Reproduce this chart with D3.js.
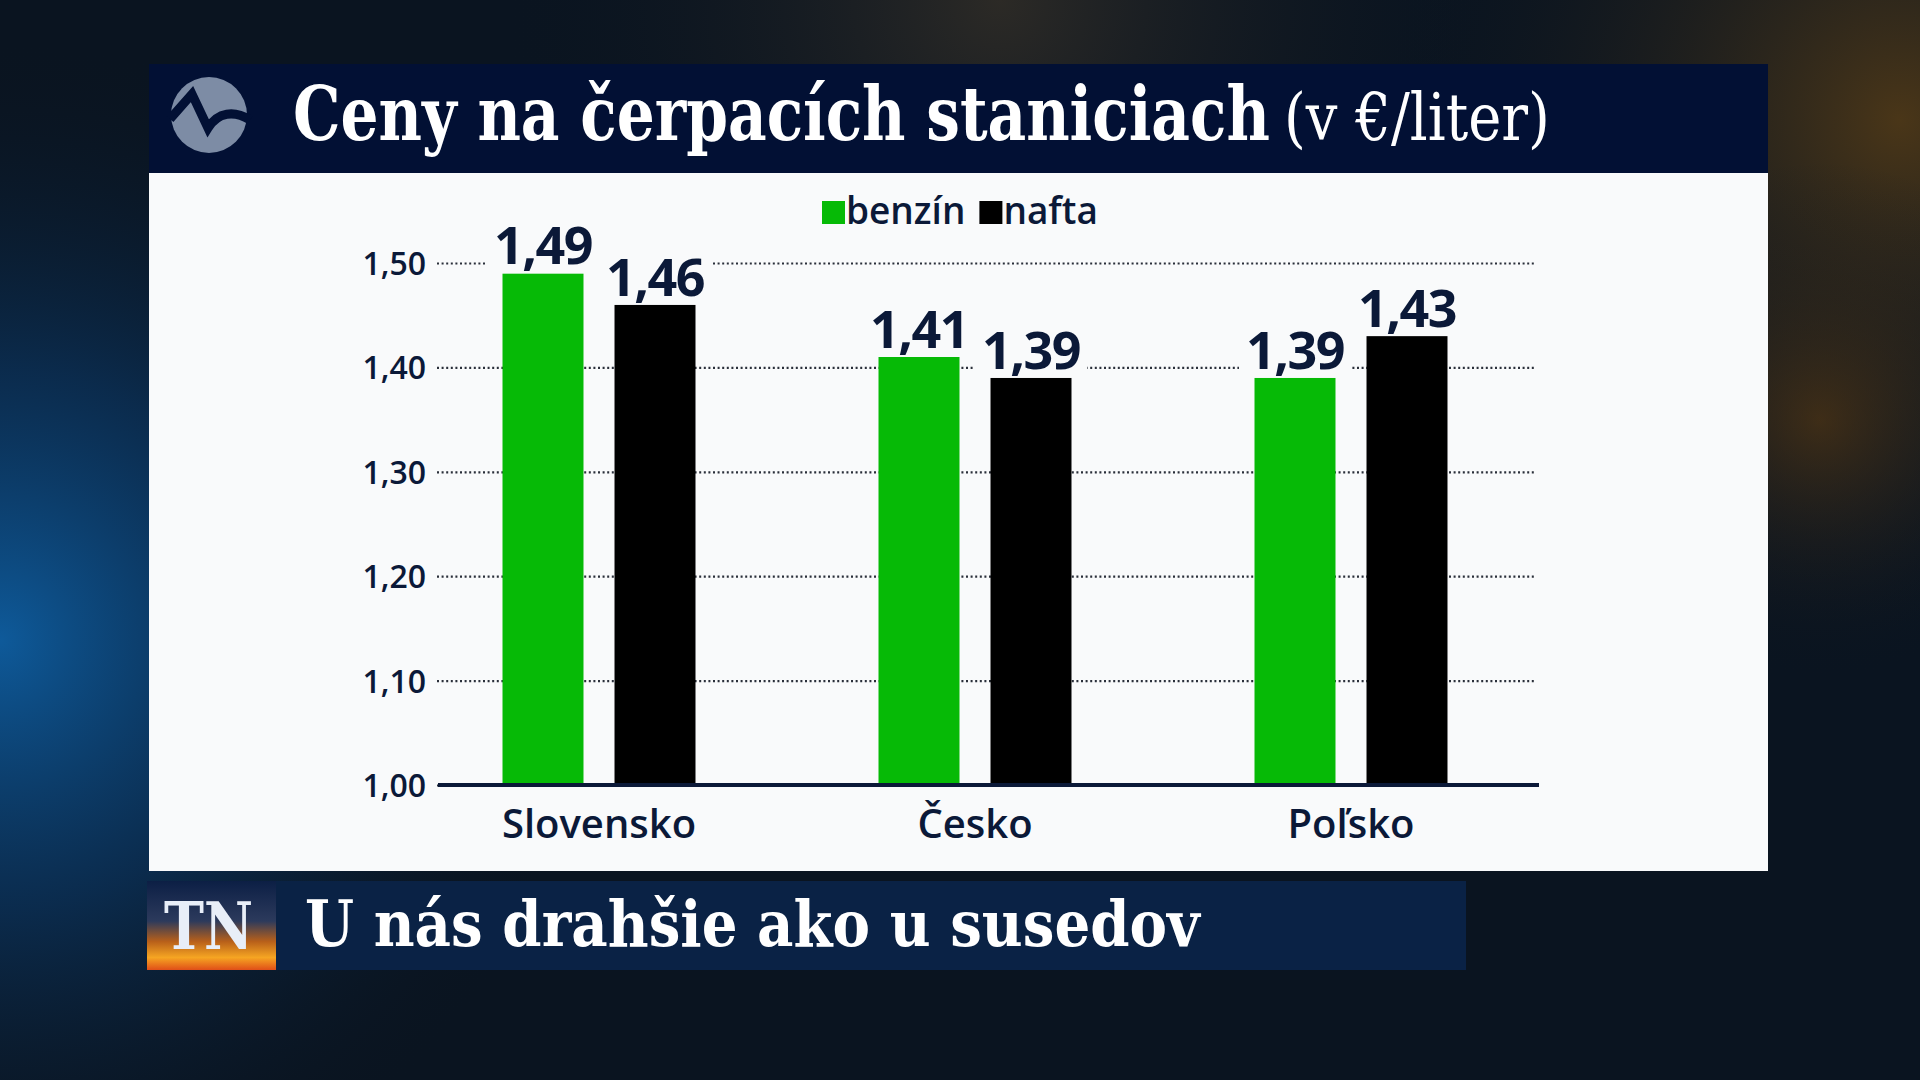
<!DOCTYPE html>
<html>
<head>
<meta charset="utf-8">
<script src="https://cdn.jsdelivr.net/npm/d3@7"></script>
<style>
  body { margin: 0; background: #0a1420; overflow: hidden; }
  svg { display: block; }
  .tick text { font-family: "Open Sans", sans-serif; }
</style>
</head>
<body>
<div id="chart"></div>
<script>
// data
const categories = ['Slovensko', 'Česko', 'Poľsko'];
const series = ['benzín', 'nafta'];
const benzin = [1.49, 1.41, 1.39];
const nafta = [1.46, 1.39, 1.43];
const yTicks = [1.00, 1.10, 1.20, 1.30, 1.40, 1.50];
const seriesColors = ['#06ba06', '#000000'];
const title = 'Ceny na čerpacích staniciach';
const unit = '(v €/liter)';
const caption = 'U nás drahšie ako u susedov';

const W = 1920, H = 1080;
const navy = '#0b1938';
const fmt = v => d3.format('.2f')(v).replace('.', ',');

let svg = d3.select('#chart').append('svg').attr('width', W).attr('height', H);
let defs = svg.append('defs');

// squeeze a slab text horizontally to a given width
function slab(x, yy, size, weight, width, fill, txt) {
  let t = svg.append('text').attr('x', 0).attr('y', 0)
    .attr('font-family', 'DejaVu Serif').attr('font-weight', weight).attr('font-size', size)
    .attr('fill', fill).text(txt);
  let len = t.node().getComputedTextLength();
  t.attr('transform', 'translate(' + x + ',' + yy + ') scale(' + (width / len) + ',1)');
  return t;
}

function radial(id, cx, cy, r, stops) {
  let g = defs.append('radialGradient').attr('id', id)
    .attr('cx', cx).attr('cy', cy).attr('r', r).attr('gradientUnits', 'userSpaceOnUse');
  stops.forEach(s => g.append('stop').attr('offset', s[0]).attr('stop-color', s[1]).attr('stop-opacity', s[2]));
}
radial('blueGlow', 0, 640, 600, [[0, '#0e5a9a', 1], [0.45, '#0b3560', 0.7], [1, '#0a1420', 0]]);
radial('warmGlow', 1900, 120, 520, [[0, '#4a3618', 1], [1, '#0a1420', 0]]);
radial('topGlow', 1000, 0, 500, [[0, '#2c2a26', 1], [1, '#0a1420', 0]]);
radial('arcGlow', 1820, 420, 260, [[0, '#5a3a12', 0.6], [1, '#0a1420', 0]]);
let tn = defs.append('linearGradient').attr('id', 'tnGrad')
  .attr('x1', 0).attr('y1', 0).attr('x2', 0).attr('y2', 1);
tn.append('stop').attr('offset', 0).attr('stop-color', '#0c1f45');
tn.append('stop').attr('offset', 0.45).attr('stop-color', '#2c3a5c');
tn.append('stop').attr('offset', 0.68).attr('stop-color', '#b8601a');
tn.append('stop').attr('offset', 0.86).attr('stop-color', '#f6a522');
tn.append('stop').attr('offset', 1).attr('stop-color', '#e04e18');

svg.append('rect').attr('width', W).attr('height', H).attr('fill', '#0a1420');
['blueGlow', 'warmGlow', 'topGlow', 'arcGlow'].forEach(id =>
  svg.append('rect').attr('width', W).attr('height', H).attr('fill', 'url(#' + id + ')'));

// header band
svg.append('rect').attr('x', 149).attr('y', 64).attr('width', 1619).attr('height', 109).attr('fill', '#021034');
svg.append('circle').attr('cx', 209).attr('cy', 115).attr('r', 38).attr('fill', '#7d8ca5');
svg.append('path')
  .attr('d', 'M170,119 L192,94 L208,128 C218,112 234,110 250,120')
  .attr('fill', 'none').attr('stroke', '#021034').attr('stroke-width', 9)
  .attr('stroke-linejoin', 'miter');
slab(293, 140, 74, 'bold', 977, '#fff', title);
slab(1284, 140, 66, 'normal', 266, '#fff', unit);

// white panel
svg.append('rect').attr('x', 149).attr('y', 173).attr('width', 1619).attr('height', 698).attr('fill', '#f9fafb');

// scales
let y = d3.scaleLinear().domain([1.0, 1.5]).range([785, 263]);
let x0 = d3.scaleBand().domain(categories).range([411, 1539]);
let x1 = d3.scaleBand().domain(series).range([0, x0.bandwidth()])
  .paddingInner(0.277).paddingOuter(0.817);

// grid + y labels
let yAxis = svg.append('g').attr('transform', 'translate(437,0)')
  .call(d3.axisLeft(y).tickValues(yTicks).tickFormat(fmt)
    .tickSizeInner(-1099).tickSizeOuter(0).tickPadding(11));
yAxis.select('.domain').remove();
yAxis.selectAll('.tick line')
  .attr('stroke', '#2a2f3a').attr('stroke-width', 2.2).attr('stroke-dasharray', '2,2.6');
yAxis.selectAll('.tick text')
  .attr('fill', navy).attr('font-size', 32).attr('font-weight', 600)
  .attr('dy', '0.36em');

// bars
let rows = categories.map((c, i) => ({ cat: c, vals: [benzin[i], nafta[i]] }));
let groups = svg.append('g').selectAll('g.grp').data(rows).enter()
  .append('g').attr('class', 'grp').attr('transform', d => 'translate(' + x0(d.cat) + ',0)');
let cells = groups.selectAll('g.cell').data(d => d.vals.map((v, j) => ({ s: series[j], v: v, j: j })))
  .enter().append('g').attr('class', 'cell');
cells.append('rect')
  .attr('x', d => x1(d.s)).attr('width', x1.bandwidth())
  .attr('y', d => y(d.v)).attr('height', d => y(1.0) - y(d.v))
  .attr('fill', d => seriesColors[d.j]);

// value labels, with a white halo that cuts the grid but stops at the bar top
cells.append('rect').attr('class', 'halo').attr('fill', '#f9fafb');
let vlab = cells.append('text')
  .attr('x', d => x1(d.s) + x1.bandwidth() / 2)
  .attr('y', d => y(d.v) - 9)
  .attr('text-anchor', 'middle')
  .attr('font-family', 'Open Sans').attr('font-weight', 700).attr('font-size', 52)
  .attr('letter-spacing', -1.5)
  .attr('fill', navy).text(d => fmt(d.v));
vlab.each(function (d) {
  let b = this.getBBox();
  let top = b.y + 10;
  d3.select(this.previousSibling)
    .attr('x', b.x - 7).attr('y', top).attr('width', b.width + 14).attr('height', y(d.v) - top);
});

// baseline
svg.append('line').attr('x1', 438).attr('x2', 1539).attr('y1', y(1.0)).attr('y2', y(1.0))
  .attr('stroke', navy).attr('stroke-width', 4);

// category labels
let xAxis = svg.append('g').attr('transform', 'translate(0,' + y(1.0) + ')')
  .call(d3.axisBottom(x0).tickSize(0));
xAxis.select('.domain').remove();
xAxis.selectAll('.tick text')
  .attr('y', 53).attr('dy', 0)
  .attr('fill', navy).attr('font-size', 40).attr('font-weight', 600);

// legend
let lg = svg.append('g');
let lx = 822;
series.forEach((s, i) => {
  lg.append('rect').attr('x', lx).attr('y', 201).attr('width', 23).attr('height', 23).attr('fill', seriesColors[i]);
  let t = lg.append('text').attr('x', lx + 24).attr('y', 224)
    .attr('font-family', 'Open Sans').attr('font-weight', 600).attr('font-size', 37)
    .attr('fill', navy).text(s);
  lx += 24 + t.node().getComputedTextLength() + 14;
});

// bottom caption bar
svg.append('rect').attr('x', 276).attr('y', 881).attr('width', 1190).attr('height', 89).attr('fill', '#0a2245');
svg.append('rect').attr('x', 147).attr('y', 881).attr('width', 129).attr('height', 89).attr('fill', 'url(#tnGrad)');
slab(164, 949, 66, 'bold', 89, '#e8eef8', 'TN');
slab(305, 946, 64, 'bold', 895, '#fff', caption);
</script>
</body>
</html>
